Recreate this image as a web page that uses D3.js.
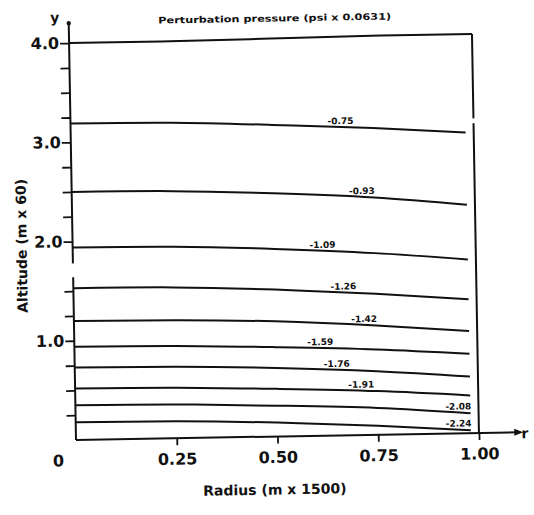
<!DOCTYPE html>
<html lang="en">
<head>
<meta charset="UTF-8">
<title>Perturbation pressure</title>
<script src="https://cdn.jsdelivr.net/npm/d3@7"></script>
<style>
  body { margin: 0; background: #fff; }
  text { font-family: "DejaVu Sans", sans-serif; font-weight: bold; fill: #111; }
</style>
</head>
<body>
<svg id="svg"></svg>
<script>
// radius positions where each contour height was read
const radii = [0, 0.25, 0.5, 0.75, 0.98];
const levelLabels = ["-0.75", "-0.93", "-1.09", "-1.26", "-1.42", "-1.59", "-1.76", "-1.91", "-2.08", "-2.24"];
const levelHeights = [
    [3.19, 3.18, 3.14, 3.09, 3.03],
    [2.50, 2.49, 2.45, 2.39, 2.30],
    [1.94, 1.93, 1.89, 1.83, 1.75],
    [1.53, 1.52, 1.48, 1.42, 1.35],
    [1.20, 1.19, 1.16, 1.10, 1.03],
    [0.94, 0.93, 0.90, 0.86, 0.80],
    [0.73, 0.72, 0.69, 0.64, 0.57],
    [0.52, 0.51, 0.48, 0.44, 0.38],
    [0.35, 0.34, 0.31, 0.27, 0.20],
    [0.18, 0.17, 0.14, 0.09, 0.03]
];
const labelRadius = [0.67, 0.72, 0.62, 0.67, 0.72, 0.61, 0.65, 0.71, 0.95, 0.95];
const topRadii = [0, 0.25, 0.5, 0.75, 1.0];
const topHeights = [4.00, 4.00, 4.01, 4.02, 4.02];
const xTicks = [0.25, 0.5, 0.75, 1.0];
const yTicks = [0.25, 0.5, 0.75, 1.0, 1.25, 1.5, 2.0, 2.25, 2.5, 2.75, 3.0, 3.25, 3.5, 3.75, 4.0];

const width = 534, height = 515;
const x0 = 76, y0 = 440;
const x = d3.scaleLinear().domain([0, 1]).range([x0, 479]);
const y = d3.scaleLinear().domain([0, 4]).range([y0, 43]);

const svg = d3.select("#svg").attr("width", width).attr("height", height);
// the scanned figure is turned about one degree
const g = svg.append("g").attr("transform", "rotate(-1," + x0 + "," + y0 + ")");

const line = d3.line().x(d => x(d[0])).y(d => y(d[1])).curve(d3.curveNatural);

// contour lines
levelHeights.forEach(function(h, i) {
    const pts = radii.map((r, j) => [r, h[j]]);
    g.append("path").attr("d", line(pts))
        .attr("fill", "none").attr("stroke", "#111").attr("stroke-width", 2);
    const interp = d3.scaleLinear().domain(radii).range(h);
    g.append("text")
        .attr("x", x(labelRadius[i]))
        .attr("y", y(interp(labelRadius[i])) - 3)
        .attr("text-anchor", "middle")
        .attr("font-size", 9)
        .text(levelLabels[i]);
});

// top of frame and right side
g.append("path").attr("d", line(topRadii.map((r, j) => [r, topHeights[j]])))
    .attr("fill", "none").attr("stroke", "#111").attr("stroke-width", 2);
[[0, 3.12], [3.17, 4.02]].forEach(function(s) {
    g.append("line").attr("x1", x(1)).attr("x2", x(1)).attr("y1", y(s[0])).attr("y2", y(s[1]))
        .attr("stroke", "#111").attr("stroke-width", 2);
});

// y axis, broken between 1.64 and 1.78
const yAxis = d3.axisLeft(y).tickValues(yTicks).tickSize(9).tickPadding(1)
    .tickFormat(d => Number.isInteger(d) ? d.toFixed(1) : "");
const ya = g.append("g").attr("transform", "translate(" + x0 + ",0)").call(yAxis);
ya.select(".domain").remove();
ya.selectAll("line").attr("stroke", "#111").attr("stroke-width", 1.8);
ya.selectAll("text").attr("font-size", 16).attr("fill", "#111");
[[0, 1.64], [1.78, 4.2]].forEach(function(s) {
    g.append("line").attr("x1", x0).attr("x2", x0).attr("y1", y(s[0])).attr("y2", y(s[1]))
        .attr("stroke", "#111").attr("stroke-width", 2);
});
g.append("circle").attr("cx", x0).attr("cy", y(4.2)).attr("r", 2.2).attr("fill", "#111");

// x axis
const xAxis = d3.axisBottom(x).tickValues(xTicks).tickSize(7).tickPadding(8)
    .tickFormat(d3.format(".2f"));
const xa = g.append("g").attr("transform", "translate(0," + y0 + ")").call(xAxis);
xa.select(".domain").remove();
xa.selectAll("line").attr("stroke", "#111").attr("stroke-width", 1.8);
xa.selectAll("text").attr("font-size", 16).attr("fill", "#111");
g.append("line").attr("x1", x0).attr("x2", x(1.09)).attr("y1", y0).attr("y2", y0)
    .attr("stroke", "#111").attr("stroke-width", 2);
g.append("path")
    .attr("d", "M" + x(1.11) + "," + y0 + "l-9,-3.5l0,7z")
    .attr("fill", "#111");

// labels
g.append("text").attr("x", 58).attr("y", 466).attr("text-anchor", "middle")
    .attr("font-size", 16).text("0");
g.append("text").attr("x", 62).attr("y", 22).attr("text-anchor", "middle")
    .attr("font-size", 14).text("y");
g.append("text").attr("x", 525).attr("y", 446).attr("text-anchor", "middle")
    .attr("font-size", 14).text("r");
g.append("text").attr("x", 282).attr("y", 25).attr("text-anchor", "middle")
    .attr("font-size", 9).attr("textLength", 233).attr("lengthAdjust", "spacingAndGlyphs")
    .text("Perturbation pressure (psi x 0.0631)");
g.append("text").attr("x", 274).attr("y", 498).attr("text-anchor", "middle")
    .attr("font-size", 14).text("Radius (m x 1500)");
g.append("text").attr("transform", "translate(30,245) rotate(-90)").attr("text-anchor", "middle")
    .attr("font-size", 14).text("Altitude (m x 60)");
</script>
</body>
</html>
